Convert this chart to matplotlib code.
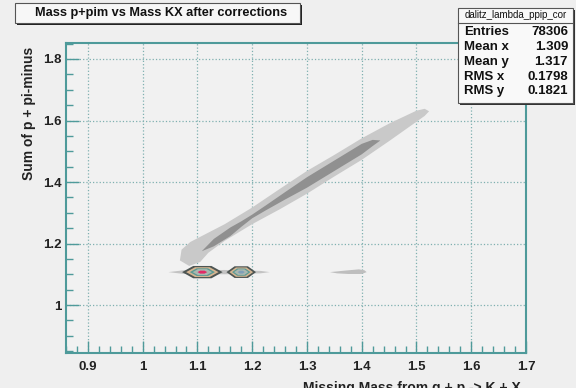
import matplotlib
matplotlib.use('Agg')
import matplotlib.pyplot as plt
from matplotlib.patches import Polygon, Rectangle
from matplotlib.ticker import MultipleLocator

plt.rcParams['font.family'] = ['Liberation Sans', 'DejaVu Sans']
plt.rcParams['font.weight'] = 'bold'

# ---- data ----
title = 'Mass p+pim vs Mass KX after corrections'
x_label = 'Missing Mass from g + p -> K + X'
y_label = 'Sum of p + pi-minus'
hist_name = 'dalitz_lambda_ppip_cor'
stat_names = ['Entries', 'Mean x', 'Mean y', 'RMS x', 'RMS y']
stat_values = ['78306', '1.309', '1.317', '0.1798', '0.1821']
x_ticks = [0.9, 1.0, 1.1, 1.2, 1.3, 1.4, 1.5, 1.6, 1.7]
x_tick_labels = ['0.9', '1', '1.1', '1.2', '1.3', '1.4', '1.5', '1.6', '1.7']
y_ticks = [1.0, 1.2, 1.4, 1.6, 1.8]
y_tick_labels = ['1', '1.2', '1.4', '1.6', '1.8']

# outline of the low-density diagonal band (x, y), upper edge then lower edge
band_outer_x = [1.068, 1.071, 1.087, 1.100, 1.150, 1.200, 1.250, 1.300, 1.350,
                1.400, 1.450, 1.500, 1.515, 1.523,
                1.515, 1.500, 1.450, 1.400, 1.350, 1.300, 1.250, 1.200, 1.150,
                1.120, 1.105, 1.085]
band_outer_y = [1.145, 1.180, 1.205, 1.217, 1.263, 1.317, 1.377, 1.436, 1.488,
                1.542, 1.590, 1.632, 1.638, 1.630,
                1.615, 1.596, 1.533, 1.472, 1.418, 1.362, 1.311, 1.263, 1.209,
                1.170, 1.140, 1.127]
# outline of the denser core of the band
band_inner_x = [1.108, 1.130, 1.160, 1.180, 1.200, 1.225, 1.260, 1.300, 1.350,
                1.400, 1.420, 1.434,
                1.420, 1.400, 1.350, 1.300, 1.260, 1.225, 1.200, 1.180, 1.160,
                1.130]
band_inner_y = [1.175, 1.215, 1.252, 1.272, 1.294, 1.324, 1.367, 1.4155, 1.4698,
                1.524, 1.537, 1.535,
                1.517, 1.490, 1.4358, 1.3815, 1.343, 1.308, 1.282, 1.254, 1.224,
                1.191]
# thin horizontal tail under the peaks
tail_x = [1.047, 1.075, 1.150, 1.215, 1.232, 1.215, 1.150, 1.075]
tail_y = [1.107, 1.113, 1.114, 1.111, 1.107, 1.103, 1.100, 1.101]
# small isolated cluster
blob3_x = [1.342, 1.370, 1.395, 1.405, 1.409, 1.400, 1.375, 1.355]
blob3_y = [1.107, 1.112, 1.116, 1.113, 1.107, 1.101, 1.101, 1.103]

# peaks: centre x, centre y, half width, half height
peak_cx = [1.109, 1.180]
peak_cy = [1.107, 1.107]
peak_hw = [0.037, 0.027]
peak_hh = [0.020, 0.019]
peak_core = ['#e22a66', '#7f9fb8']
# contour layers from outside in: scale and colour (last one = peak core)
layer_scale = [1.0, 0.80, 0.62, 0.48, 0.24]
layer_color = ['#4d5553', '#d6b591', '#5a9a94', '#aab8b0', None]

frame_c = '#4e9a9a'
bg = '#efefef'
W, H = 576, 388


def px(x, y):
    return x / W, 1 - y / H


def lens(cx, cy, hw, hh):
    xs = [cx - hw, cx - 0.45 * hw, cx + 0.45 * hw, cx + hw, cx + 0.45 * hw, cx - 0.45 * hw]
    ys = [cy, cy + hh, cy + hh, cy, cy - hh, cy - hh]
    return list(zip(xs, ys))


fig = plt.figure(figsize=(W / 100, H / 100), dpi=100, facecolor=bg)
ax = fig.add_axes([66 / W, 35 / H, 460 / W, 310 / H], facecolor='#f1f1f1')
ax.set_xlim(0.86, 1.70)
ax.set_ylim(0.844, 1.852)

ax.add_patch(Polygon(list(zip(band_outer_x, band_outer_y)), closed=True,
                     facecolor='#c9c9c9', edgecolor='none', zorder=2))
ax.add_patch(Polygon(list(zip(tail_x, tail_y)), closed=True,
                     facecolor='#c3c3c3', edgecolor='none', zorder=2))
ax.add_patch(Polygon(list(zip(blob3_x, blob3_y)), closed=True,
                     facecolor='#bebebe', edgecolor='none', zorder=2))
ax.add_patch(Polygon(list(zip(band_inner_x, band_inner_y)), closed=True,
                     facecolor='#909090', edgecolor='none', zorder=3))

for cx, cy, hw, hh, core in zip(peak_cx, peak_cy, peak_hw, peak_hh, peak_core):
    for k, (s, c) in enumerate(zip(layer_scale, layer_color)):
        ax.add_patch(Polygon(lens(cx, cy, hw * s, hh * s), closed=True,
                             facecolor=c or core, edgecolor='none', zorder=4 + k))

# axes / ticks in ROOT style
ax.xaxis.set_minor_locator(MultipleLocator(0.02))
ax.yaxis.set_minor_locator(MultipleLocator(0.05))
ax.set_xticks(x_ticks)
ax.set_xticklabels(x_tick_labels)
ax.set_yticks(y_ticks)
ax.set_yticklabels(y_tick_labels)
ax.tick_params(which='both', direction='in', color=frame_c, top=False, right=False,
               labelsize=9.5)
ax.tick_params(axis='x', pad=6)
ax.tick_params(axis='y', pad=3)
ax.tick_params(which='major', length=9, width=1.0)
ax.tick_params(which='minor', length=5, width=1.0)
for lab in ax.get_xticklabels() + ax.get_yticklabels():
    lab.set_fontweight('bold')
    lab.set_color('#222222')
ax.grid(True, which='major', linestyle=':', color='#7fb0b0', linewidth=0.9, zorder=1)
ax.set_axisbelow(True)
for sp in ax.spines.values():
    sp.set_color(frame_c)
    sp.set_linewidth(1.5)

fig.text(*px(29, 113), y_label, rotation=90, ha='center', va='center',
         fontsize=10, fontweight='bold', color='#222222')
fig.text(*px(521, 381), x_label, ha='right', va='top',
         fontsize=10, fontweight='bold', color='#222222')

# title box with shadow
x0, y0 = px(17, 25)
x1, y1 = px(302, 5)
fig.patches.append(Rectangle((x0, y0), x1 - x0, y1 - y0, transform=fig.transFigure,
                             facecolor='#222222', edgecolor='none', zorder=5))
x0, y0 = px(15, 23)
x1, y1 = px(300, 3)
fig.patches.append(Rectangle((x0, y0), x1 - x0, y1 - y0, transform=fig.transFigure,
                             facecolor='#f7f7f7', edgecolor='#555555', linewidth=0.8,
                             zorder=6))
fig.text(*px(161, 13), title, ha='center', va='center', fontsize=9.2,
         fontweight='bold', color='#111111', zorder=7)

# statistics box
x0, y0 = px(460, 105)
x1, y1 = px(575, 10)
fig.patches.append(Rectangle((x0, y0), x1 - x0, y1 - y0, transform=fig.transFigure,
                             facecolor='#333333', edgecolor='none', zorder=5))
x0, y0 = px(458, 103)
x1, y1 = px(573, 8)
fig.patches.append(Rectangle((x0, y0), x1 - x0, y1 - y0, transform=fig.transFigure,
                             facecolor='#f9f9f9', edgecolor='#555555', linewidth=0.8,
                             zorder=6))
fig.lines.append(plt.Line2D([x0, x1], [px(0, 23)[1]] * 2, transform=fig.transFigure,
                            color='#555555', linewidth=0.8, zorder=7))
fig.text(*px(515.5, 15.5), hist_name, ha='center', va='center', fontsize=7,
         fontweight='normal', color='#111111', zorder=8)
row_y = [32, 47, 62, 77, 91]
for name, val, ry in zip(stat_names, stat_values, row_y):
    fig.text(*px(464, ry), name, ha='left', va='center', fontsize=9.5,
             fontweight='bold', color='#111111', zorder=8)
    fig.text(*px(568, ry), val, ha='right', va='center', fontsize=9.5,
             fontweight='bold', color='#111111', zorder=8)

fig.savefig('out.png', dpi=100, facecolor=bg)
